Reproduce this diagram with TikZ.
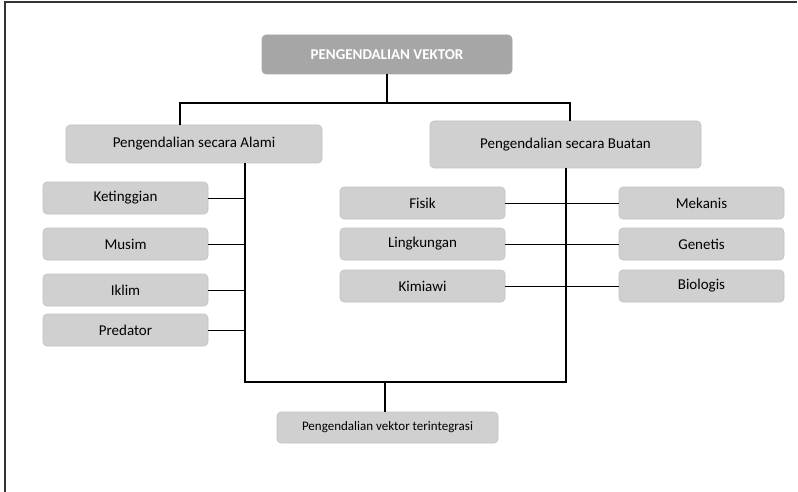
\documentclass[tikz,border=0pt]{standalone}
\usepackage{fontspec}
\setmainfont{Carlito}
\definecolor{boxfill}{HTML}{D0D0D0}
\definecolor{boxedge}{HTML}{C2C2C2}
\definecolor{topfill}{HTML}{A6A6A6}
\definecolor{framecol}{HTML}{333333}
\begin{document}
\begin{tikzpicture}[x=1pt,y=-1pt,
  gbox/.style={draw=boxedge,line width=0.6pt,fill=boxfill,rounded corners=4pt,inner sep=0pt,align=center,font=\fontsize{15}{17}\selectfont},
  smallbox/.style={gbox,minimum width=165pt,minimum height=32pt},
  thick line/.style={line width=1.8pt,black},
  thin line/.style={line width=0.8pt,black}]
\useasboundingbox (0,0) rectangle (798,492);
% frame
\draw[framecol,line width=1.3pt] (5,492) -- (5,2) -- (797,2);
% nodes
\node[gbox,draw=topfill,fill=topfill,minimum width=250pt,minimum height=39pt,text=white,font=\fontsize{15}{17}\selectfont\bfseries] (top) at (387,54.5) {PENGENDALIAN VEKTOR};
\node[gbox,minimum width=256pt,minimum height=38pt,font=\fontsize{15}{17}\selectfont] (alami) at (194,144) {Pengendalian secara Alami};
\node[gbox,minimum width=271pt,minimum height=47pt,font=\fontsize{15}{17}\selectfont] (buatan) at (565.5,144.5) {Pengendalian secara Buatan};
\node[gbox,minimum width=221pt,minimum height=31pt,font=\fontsize{13}{15}\selectfont] (integ) at (387.5,427.5) {Pengendalian vektor terintegrasi};
\node[smallbox] (ket) at (125.5,198) {Ketinggian};
\node[smallbox] (mus) at (125.5,244) {Musim};
\node[smallbox] (ikl) at (125.5,290) {Iklim};
\node[smallbox] (pre) at (125.5,330) {Predator};
\node[smallbox] (fis) at (422.5,203) {Fisik};
\node[smallbox] (lin) at (422.5,244) {Lingkungan};
\node[smallbox] (kim) at (422.5,286) {Kimiawi};
\node[smallbox] (mek) at (701.5,203) {Mekanis};
\node[smallbox] (gen) at (701.5,244) {Genetis};
\node[smallbox] (bio) at (701.5,286) {Biologis};
% coordinates
\coordinate (tj) at (387,103);
\coordinate (tl) at (180,103);
\coordinate (tr) at (570,103);
\coordinate (lv) at (245,163);
\coordinate (lb) at (245,382);
\coordinate (rv) at (566,168);
\coordinate (rb) at (566,382);
\coordinate (bj) at (385,382);
% thin connectors
\foreach \n in {ket,mus,ikl,pre}{\draw[thin line] (\n.east) -- (\n.east -| lv);}
\draw[thin line] (fis.east) -- (mek.west);
\draw[thin line] (lin.east) -- (gen.west);
\draw[thin line] (kim.east) -- (bio.west);
% thick connectors
\draw[thick line] (top.south) -- (tj);
\draw[thick line] (tl |- alami.north) -- (tl) -- (tr) -- (tr |- buatan.north);
\draw[thick line] (lv) -- (lb) -- (rb) -- (rv);
\draw[thick line] (bj) -- (bj |- integ.north);
\end{tikzpicture}
\end{document}
